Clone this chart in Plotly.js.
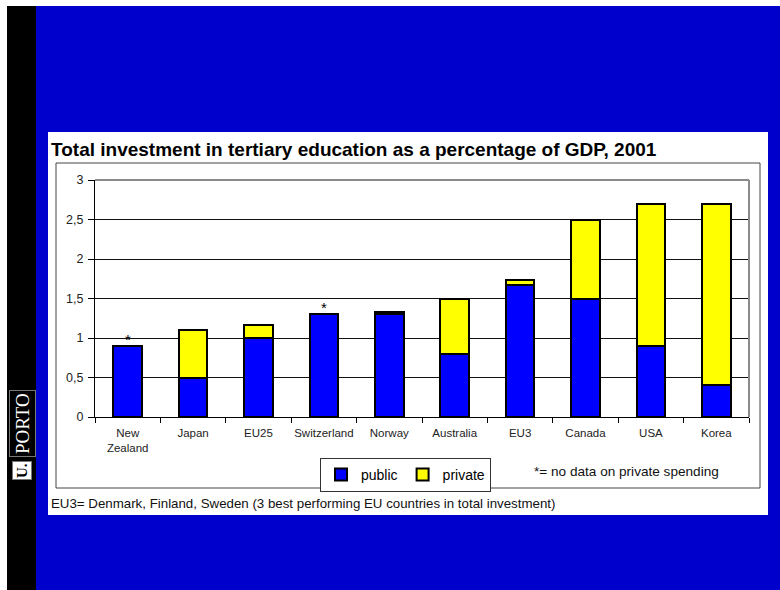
<!DOCTYPE html>
<html>
<head>
<meta charset="utf-8">
<script src="https://cdn.plot.ly/plotly-3.0.1.min.js"></script>
<style>html,body{margin:0;padding:0;background:#fff;}#chart{width:780px;height:590px;}</style>
</head>
<body>
<div id="chart"></div>
<script>
// ---- data ----
var categories = ['New<br>Zealand','Japan','EU25','Switzerland','Norway','Australia','EU3','Canada','USA','Korea'];
var publicVals = [0.9, 0.5, 1.0, 1.31, 1.3, 0.8, 1.67, 1.5, 0.9, 0.4];
var privateVals = [0, 0.6, 0.17, 0, 0.03, 0.7, 0.06, 1.0, 1.8, 2.3];
var noPrivateData = [true, false, false, true, false, false, false, false, false, false];
var yTickVals = [0, 0.5, 1, 1.5, 2, 2.5, 3];
var yTickText = ['0', '0,5', '1', '1,5', '2', '2,5', '3'];
var seriesNames = ['public', 'private'];
var titleText = 'Total investment in tertiary education as a percentage of GDP, 2001';
var noteText = '*= no data on private spending';
var footText = 'EU3= Denmark, Finland, Sweden (3 best performing EU countries in total investment)';

// ---- geometry helpers (plot area: x 95-749, y 180-417 px) ----
var L = 95, R = 749, T = 180, B = 417;
function X(px){ return (px - L) / (R - L); }
function Y(py){ return (B - py) / (B - T); }

var traces = [
  {type:'bar', name:seriesNames[0], x:categories, y:publicVals,
   marker:{color:'#0000FF', line:{color:'#000', width:2}}, hoverinfo:'y'},
  {type:'bar', name:seriesNames[1], x:categories, y:privateVals,
   marker:{color:'#FFFF00', line:{color:'#000', width:2}}, hoverinfo:'y'}
];

var annotations = [];
categories.forEach(function(c, i){
  if (noPrivateData[i]) {
    annotations.push({x:c, y:publicVals[i] + privateVals[i], xref:'x', yref:'y', text:'*',
      showarrow:false, yanchor:'bottom', yshift:-4, font:{family:'Arial, Liberation Sans', size:15, color:'#000'}});
  }
});
annotations.push({xref:'paper', yref:'paper', x:X(532), y:Y(471), xanchor:'left', yanchor:'middle',
  text:noteText, showarrow:false, font:{family:'Arial, Liberation Sans', size:13.6, color:'#111'}});
annotations.push({xref:'paper', yref:'paper', x:X(49), y:Y(503), xanchor:'left', yanchor:'middle',
  text:footText, showarrow:false, font:{family:'Arial, Liberation Sans', size:13.3, color:'#111'}});
// U.PORTO logo
annotations.push({xref:'paper', yref:'paper', x:X(22), y:Y(424), xanchor:'center', yanchor:'middle',
  text:'PORTO', textangle:-90, showarrow:false, bgcolor:'#000', bordercolor:'#777', borderwidth:1, borderpad:2,
  font:{family:'Liberation Serif, DejaVu Serif, serif', size:19, color:'#fff'}});
annotations.push({xref:'paper', yref:'paper', x:X(22), y:Y(471), xanchor:'center', yanchor:'middle',
  text:'<b>U.</b>', textangle:-90, showarrow:false, bgcolor:'#fff', bordercolor:'#777', borderwidth:1, borderpad:1,
  font:{family:'Liberation Serif, DejaVu Serif, serif', size:15, color:'#000'}});

var shapes = [
  {type:'rect', xref:'paper', yref:'paper', layer:'below', x0:X(7), x1:X(36), y0:Y(6), y1:Y(590), fillcolor:'#000', line:{width:0}},
  {type:'rect', xref:'paper', yref:'paper', layer:'below', x0:X(36), x1:X(780), y0:Y(6), y1:Y(590), fillcolor:'#0000CC', line:{width:0}},
  {type:'rect', xref:'paper', yref:'paper', layer:'below', x0:X(48), x1:X(768), y0:Y(132), y1:Y(515), fillcolor:'#fff', line:{width:0}},
  {type:'rect', xref:'paper', yref:'paper', layer:'below', x0:X(56), x1:X(760), y0:Y(163), y1:Y(488), fillcolor:'#fff', line:{color:'#444', width:1}},
  {type:'line', xref:'paper', yref:'paper', layer:'above', x0:0, x1:1, y0:1, y1:1, line:{color:'#8a8a8a', width:2}},
  {type:'line', xref:'paper', yref:'paper', layer:'above', x0:1, x1:1, y0:1, y1:0, line:{color:'#8a8a8a', width:2}}
];

var layout = {
  width:780, height:590,
  margin:{l:L, r:780-R, t:T, b:590-B, pad:0},
  paper_bgcolor:'#fff', plot_bgcolor:'#fff',
  barmode:'stack', bargap:0.56,
  showlegend:true,
  title:{text:'<b>' + titleText + '</b>', xref:'container', yref:'container', x:51/780, xanchor:'left',
    y:1 - 149/590, yanchor:'middle', font:{family:'Arial, Liberation Sans', size:19, color:'#000'}},
  xaxis:{type:'category', showline:true, linecolor:'#000', linewidth:1, ticks:'outside', tickson:'boundaries',
    ticklen:5, tickcolor:'#000', showgrid:false, tickangle:0, ticklabelstandoff:5,
    tickfont:{family:'Arial, Liberation Sans', size:11.5, color:'#222'}, fixedrange:true},
  yaxis:{range:[0,3], tickvals:yTickVals, ticktext:yTickText, showline:true, linecolor:'#000', linewidth:1,
    ticks:'outside', ticklen:6, tickcolor:'#000', showgrid:true, gridcolor:'#111', gridwidth:1, zeroline:false,
    ticklabelstandoff:2,
    tickfont:{family:'Arial, Liberation Sans', size:12.5, color:'#222'}, fixedrange:true},
  legend:{orientation:'h', xref:'paper', yref:'paper', x:X(320), y:Y(458), xanchor:'left', yanchor:'top',
    bgcolor:'#fff', bordercolor:'#333', borderwidth:1, font:{family:'Arial, Liberation Sans', size:14, color:'#000'},
    traceorder:'normal', itemwidth:30, tracegroupgap:0},
  shapes:shapes,
  annotations:annotations
};

Plotly.newPlot('chart', traces, layout, {displayModeBar:false, staticPlot:true});
</script>
</body>
</html>
